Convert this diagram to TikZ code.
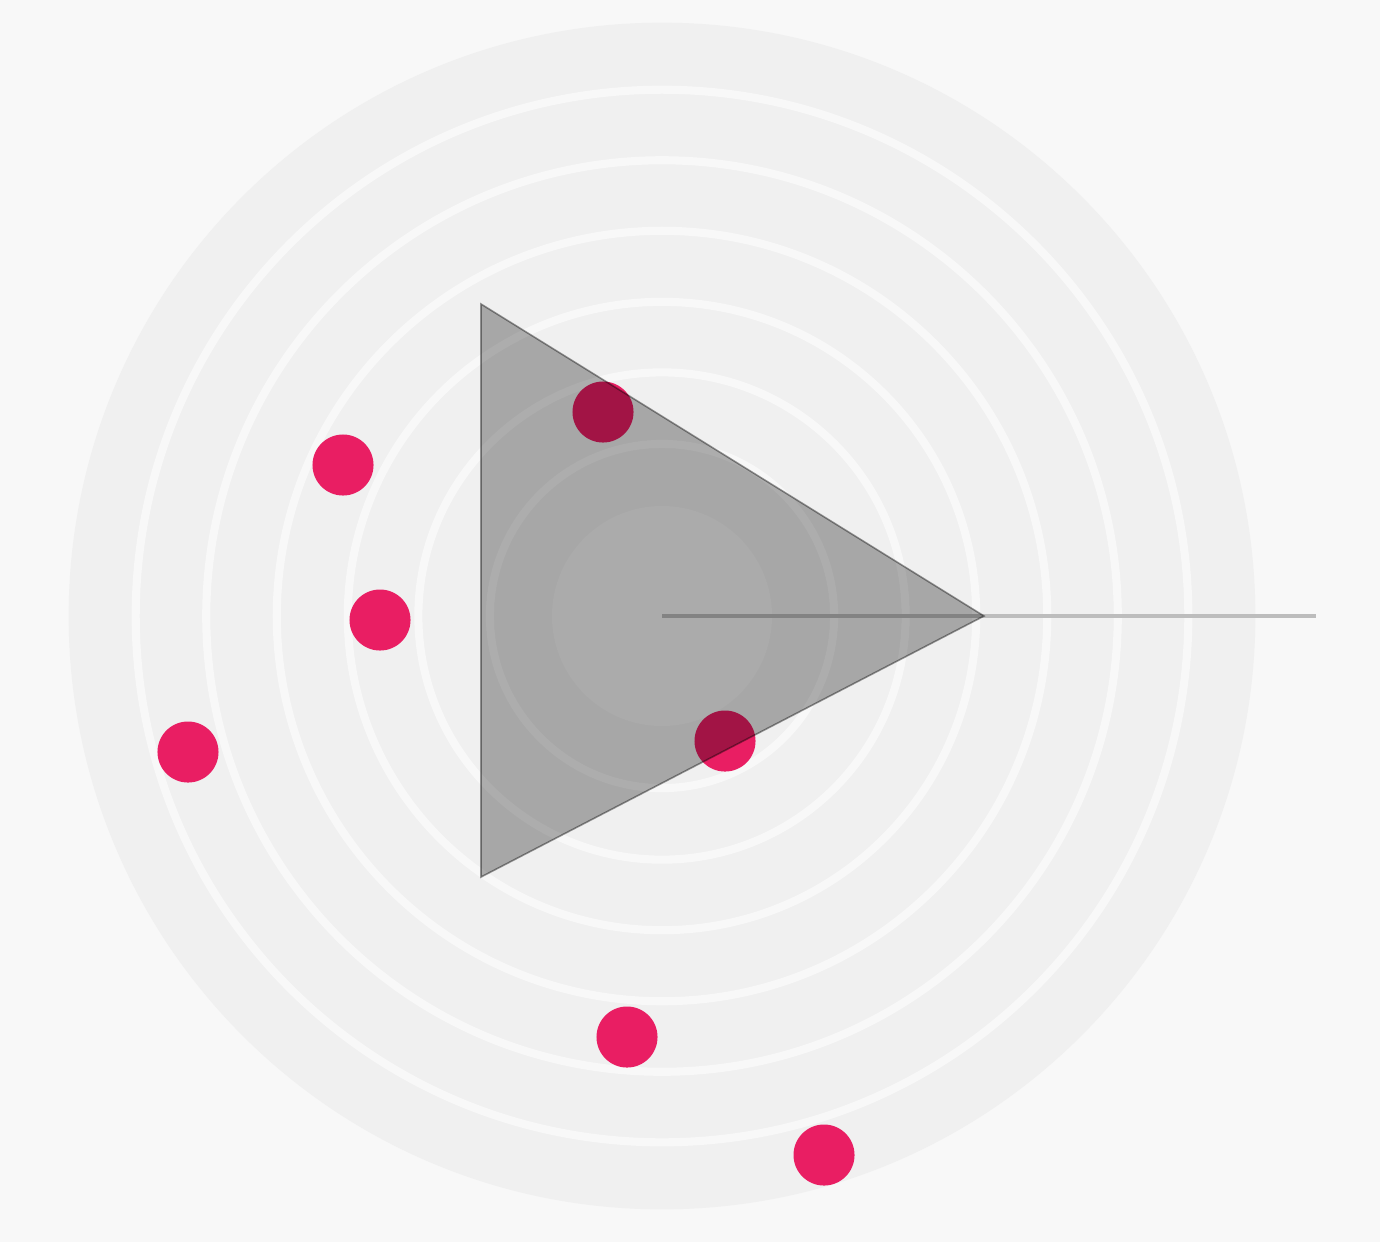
\documentclass[tikz,border=0pt]{standalone}
\definecolor{bgc}{HTML}{F8F8F8}
\definecolor{diskc}{HTML}{F0F0F0}
\definecolor{ringc}{HTML}{F8F8F8}
\definecolor{corec}{HTML}{F5F5F5}
\definecolor{pinkc}{HTML}{E91E63}
\definecolor{linec}{HTML}{BDBDBD}
\tikzset{
  ringline/.style={draw=ringc, line width=2.3pt},
  dot/.style={circle, fill=pinkc, draw=none, minimum size=0.61cm, inner sep=0pt},
  axisline/.style={draw=linec, line width=0.9pt},
  shape3/.style={fill=black, fill opacity=0.3, draw=black, draw opacity=0.4, line width=0.45pt, line join=miter}
}
\begin{document}
\begin{tikzpicture}[x=0.01cm, y=-0.01cm]
\path[use as bounding box, fill=bgc] (0,0) rectangle (1380,1242);
\coordinate (c) at (662,616);
\fill[diskc] (c) circle[radius=5.93cm];
\foreach \r in {5.26,4.555,3.85,3.14,2.435,1.72} {
  \draw[ringline] (c) circle[radius=\r cm];
}
\fill[corec] (c) circle[radius=1.10cm];
\coordinate (lend) at (1316,616);
\draw[axisline] (c) -- (lend);
\node[dot] (d1) at (603,412) {};
\node[dot] (d2) at (343,465) {};
\node[dot] (d3) at (380,620) {};
\node[dot] (d4) at (188,752) {};
\node[dot] (d5) at (725,741) {};
\node[dot] (d6) at (627,1037) {};
\node[dot] (d7) at (824,1155) {};
\coordinate (t1) at (481,304);
\coordinate (t2) at (984,616);
\coordinate (t3) at (481,877);
\path[shape3] (t1) -- (t2) -- (t3) -- cycle;
\end{tikzpicture}
\end{document}
